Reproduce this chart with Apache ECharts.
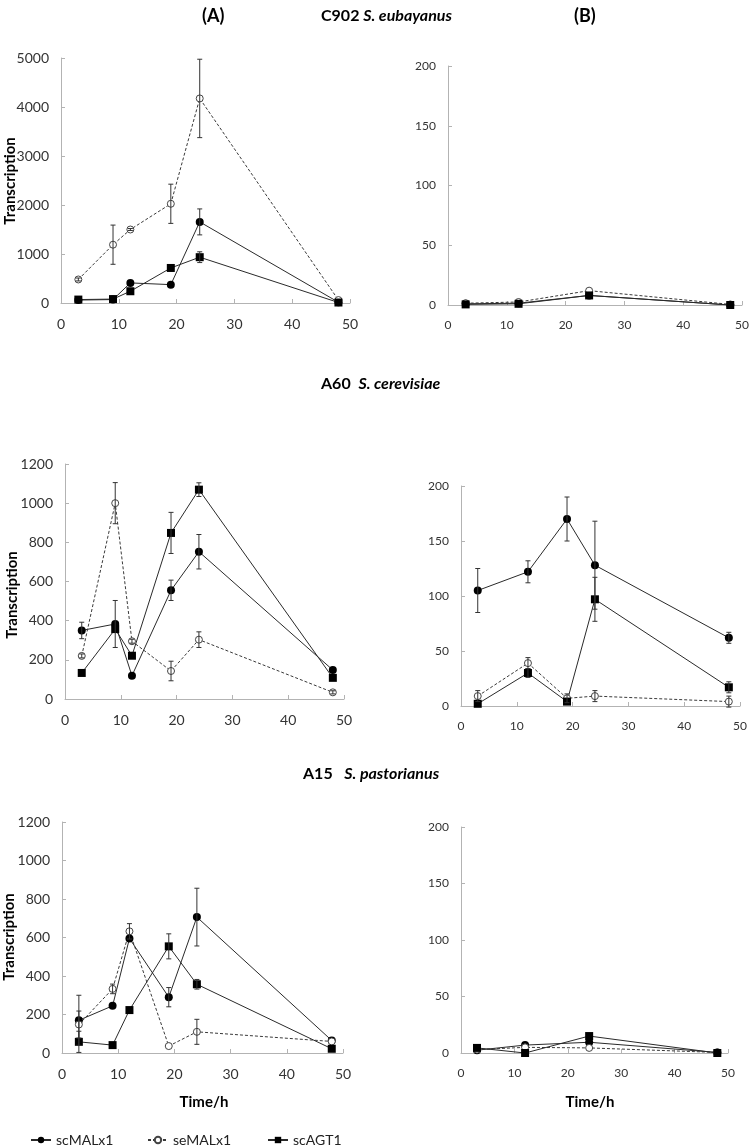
<!DOCTYPE html>
<html><head><meta charset="utf-8">
<script src="https://cdn.jsdelivr.net/npm/echarts@6/dist/echarts.min.js"></script>
<style>html,body{margin:0;padding:0;background:#fff}#c{width:750px;height:1146px}</style>
</head><body><div id="c"></div>
<script>
// ---------- data ----------
const seriesNames = ['scMALx1', 'seMALx1', 'scAGT1'];
const timeA  = [3, 9, 12, 19, 24, 48];
const timeB1 = [3, 12, 24, 48];
const timeB2 = [3, 12, 19, 24, 48];
const timeB3 = [3, 12, 24, 48];

// C902 S. eubayanus (A)
const c902A_scMALx1     = [60, 70, 410, 375, 1655, 15];
const c902A_scMALx1_err = [0, 0, 0, 0, 265, 0];
const c902A_seMALx1     = [480, 1190, 1500, 2025, 4175, 60];
const c902A_seMALx1_err = [30, 400, 20, 400, 800, 0];
const c902A_scAGT1      = [70, 80, 240, 715, 935, 10];
const c902A_scAGT1_err  = [0, 0, 0, 0, 110, 0];
// C902 S. eubayanus (B)
const c902B_scMALx1 = [1, 1.5, 8, 0];
const c902B_seMALx1 = [1.5, 2.5, 12, 0.5];
const c902B_scAGT1  = [0.5, 1, 8, 0];

// A60 S. cerevisiae (A)
const a60A_scMALx1     = [350, 383, 119, 555, 752, 148];
const a60A_scMALx1_err = [42, 120, 0, 52, 88, 0];
const a60A_seMALx1     = [220, 1000, 295, 143, 303, 34];
const a60A_seMALx1_err = [10, 105, 10, 50, 40, 8];
const a60A_scAGT1      = [133, 357, 221, 848, 1069, 108];
const a60A_scAGT1_err  = [0, 0, 0, 105, 35, 0];
// A60 S. cerevisiae (B)
const a60B_scMALx1     = [105, 122, 170, 128, 62];
const a60B_scMALx1_err = [20, 10, 20, 40, 5];
const a60B_seMALx1     = [9, 39, 7, 9, 4];
const a60B_seMALx1_err = [5, 5, 4, 5, 5];
const a60B_scAGT1      = [2, 30, 4, 97, 17];
const a60B_scAGT1_err  = [0, 4, 0, 20, 5];

// A15 S. pastorianus (A)
const a15A_scMALx1     = [170, 245, 595, 290, 706, 65];
const a15A_scMALx1_err = [130, 0, 0, 50, 150, 0];
const a15A_seMALx1     = [148, 333, 632, 36, 110, 60];
const a15A_seMALx1_err = [70, 25, 40, 0, 65, 0];
const a15A_scAGT1      = [58, 41, 223, 554, 357, 22];
const a15A_scAGT1_err  = [55, 0, 0, 65, 25, 0];
// A15 S. pastorianus (B)
const a15B_scMALx1 = [2.5, 7, 9.5, 0.5];
const a15B_seMALx1 = [3, 5, 4.5, 0.5];
const a15B_scAGT1  = [4.5, 0, 15, 0];

// ---------- layout ----------
const panels = [
  {t: timeA,  v: [c902A_scMALx1, c902A_seMALx1, c902A_scAGT1], e: [c902A_scMALx1_err, c902A_seMALx1_err, c902A_scAGT1_err], yMax: 5000, yStep: 1000, g: {left: 61, top: 58, width: 289, height: 245}, big: true},
  {t: timeB1, v: [c902B_scMALx1, c902B_seMALx1, c902B_scAGT1], e: null, yMax: 200, yStep: 50, g: {left: 448, top: 66, width: 294, height: 239}, big: false},
  {t: timeA,  v: [a60A_scMALx1, a60A_seMALx1, a60A_scAGT1], e: [a60A_scMALx1_err, a60A_seMALx1_err, a60A_scAGT1_err], yMax: 1200, yStep: 200, g: {left: 65, top: 464, width: 279, height: 235}, big: true},
  {t: timeB2, v: [a60B_scMALx1, a60B_seMALx1, a60B_scAGT1], e: [a60B_scMALx1_err, a60B_seMALx1_err, a60B_scAGT1_err], yMax: 200, yStep: 50, g: {left: 461, top: 486, width: 279, height: 220}, big: false},
  {t: timeA,  v: [a15A_scMALx1, a15A_seMALx1, a15A_scAGT1], e: [a15A_scMALx1_err, a15A_seMALx1_err, a15A_scAGT1_err], yMax: 1200, yStep: 200, g: {left: 62, top: 822, width: 281, height: 231}, big: true},
  {t: timeB3, v: [a15B_scMALx1, a15B_seMALx1, a15B_scAGT1], e: null, yMax: 200, yStep: 50, g: {left: 461, top: 827, width: 267, height: 226}, big: false}
];

const FONT = 'Lato';
const styles = [
  {symbol: 'circle', symbolSize: 8, lineStyle: {color: '#2a2a2a', width: 1, type: 'solid'}, itemStyle: {color: '#000'}},
  {symbol: 'circle', symbolSize: 7, lineStyle: {color: '#3a3a3a', width: 1, type: [3, 2]}, itemStyle: {color: '#fff', borderColor: '#444', borderWidth: 1}},
  {symbol: 'rect', symbolSize: 8, lineStyle: {color: '#2a2a2a', width: 1, type: 'solid'}, itemStyle: {color: '#000'}}
];

const grid = [], xAxis = [], yAxis = [], series = [];
panels.forEach((p, i) => {
  grid.push(Object.assign({containLabel: false, outerBoundsMode: 'none'}, p.g));
  const fs = p.big ? 14 : 12;
  const axCommon = {
    axisLine: {show: true, lineStyle: {color: '#b3b3b3', width: 1}},
    axisTick: {show: true, inside: true, length: 4, lineStyle: {color: '#b3b3b3'}},
    splitLine: {show: false}
  };
  xAxis.push(Object.assign({gridIndex: i, type: 'value', min: 0, max: 50, interval: 10,
    axisLabel: {fontFamily: FONT, fontSize: fs, color: '#333', margin: 14, formatter: v => String(v)}}, axCommon));
  yAxis.push(Object.assign({gridIndex: i, type: 'value', min: 0, max: p.yMax, interval: p.yStep,
    axisLabel: {fontFamily: FONT, fontSize: fs, color: '#333', margin: 12, formatter: v => String(v)}}, axCommon));
  seriesNames.forEach((name, k) => {
    const st = styles[k];
    series.push({
      type: 'line', name: name, xAxisIndex: i, yAxisIndex: i,
      data: p.t.map((t, j) => [t, p.v[k][j]]),
      symbol: st.symbol, symbolSize: st.symbolSize, showSymbol: true,
      lineStyle: st.lineStyle, itemStyle: st.itemStyle, z: 3, animation: false
    });
    if (p.e) {
      const ed = [];
      p.t.forEach((t, j) => { const er = p.e[k][j]; if (er > 0) ed.push([t, p.v[k][j] - er, p.v[k][j] + er]); });
      series.push({
        type: 'custom', name: name + ' error', xAxisIndex: i, yAxisIndex: i, z: 4,
        data: ed, encode: {x: 0, y: [1, 2]}, silent: true, animation: false,
        renderItem: function (params, api) {
          const x = api.value(0);
          const lo = api.coord([x, api.value(1)]);
          const hi = api.coord([x, api.value(2)]);
          const s = {stroke: '#333', lineWidth: 1};
          return {type: 'group', children: [
            {type: 'line', shape: {x1: lo[0], y1: lo[1], x2: hi[0], y2: hi[1]}, style: s},
            {type: 'line', shape: {x1: lo[0] - 2.5, y1: lo[1], x2: lo[0] + 2.5, y2: lo[1]}, style: s},
            {type: 'line', shape: {x1: hi[0] - 2.5, y1: hi[1], x2: hi[0] + 2.5, y2: hi[1]}, style: s}
          ]};
        }
      });
    }
  });
});

const boldT = {fontFamily: FONT, fontWeight: 'bold', fontSize: 18, color: '#000'};
const richT = {
  b: {fontFamily: FONT, fontWeight: 'bold', fontSize: 16, color: '#000'},
  i: {fontFamily: FONT, fontWeight: 'bold', fontStyle: 'italic', fontSize: 16, color: '#000'}
};
const title = [
  {text: '(A)', left: 197, top: 2, textStyle: boldT},
  {text: '(B)', left: 569, top: 2, textStyle: boldT},
  {text: '{b|C902 }{i|S. eubayanus}', left: 316, top: 3, textStyle: {rich: richT}},
  {text: '{b|A60  }{i|S. cerevisiae}', left: 316, top: 371, textStyle: {rich: richT}},
  {text: '{b|A15   }{i|S. pastorianus}', left: 298, top: 761, textStyle: {rich: richT}}
];

const rot = (txt, x, y) => ({type: 'text', x: x, y: y, rotation: Math.PI / 2,
  style: {text: txt, fontFamily: FONT, fontWeight: 'bold', fontSize: 15, fill: '#000', align: 'center', verticalAlign: 'middle'}});
const graphic = [
  rot('Transcription', 10, 181),
  rot('Transcription', 12, 595),
  rot('Transcription', 9, 937),
  {type: 'text', x: 204, y: 1102, style: {text: 'Time/h', fontFamily: FONT, fontWeight: 'bold', fontSize: 15, fill: '#000', align: 'center', verticalAlign: 'middle'}},
  {type: 'text', x: 590, y: 1102, style: {text: 'Time/h', fontFamily: FONT, fontWeight: 'bold', fontSize: 15, fill: '#000', align: 'center', verticalAlign: 'middle'}}
];

const legendPos = [30, 147, 267];
const legend = seriesNames.map((n, k) => ({
  data: [n], left: legendPos[k], top: 1133, itemWidth: 20, itemHeight: 8, itemGap: 4, padding: 0,
  textStyle: {fontFamily: FONT, fontSize: 14, color: '#222'}
}));

const chart = echarts.init(document.getElementById('c'), null, {renderer: 'canvas'});
chart.setOption({animation: false, backgroundColor: '#fff', title, grid, xAxis, yAxis, series, graphic, legend});
</script></body></html>
